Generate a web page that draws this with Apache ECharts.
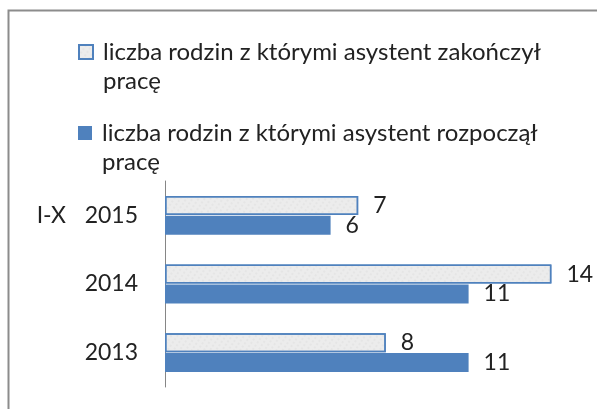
<!DOCTYPE html>
<html>
<head>
<meta charset="utf-8">
<script src="https://cdn.jsdelivr.net/npm/echarts@6/dist/echarts.min.js"></script>
<style>
  html, body { margin: 0; padding: 0; background: #fff; }
  #chart { width: 597px; height: 409px; }
</style>
</head>
<body>
<div id="chart"></div>
<script>
// dane
var categories = ['2013', '2014', 'I-X 2015']
var zakonczyl = [8, 14, 7]
var rozpoczal = [11, 11, 6]
var nameZak = 'liczba rodzin z którymi asystent zakończył pracę'
var nameRoz = 'liczba rodzin z którymi asystent rozpoczął pracę'

var FONT = 'Lato'
var BLUE = '#4f81bd'
var LINE = 29

var chart = echarts.init(document.getElementById('chart'))

// pusty pierwszy wiersz -> ikonka wypada na wysokosci pierwszej linii tekstu
function legendItem (name, iconY) {
  return {
    data: [name],
    orient: 'vertical',
    left: 78,
    top: iconY - LINE * 1.5,
    padding: 0,
    icon: 'rect',
    itemWidth: 14,
    itemHeight: 14,
    selectedMode: false,
    formatter: function (n) {
      return ' \n' + n.replace(' pracę', '\npracę')
    },
    textStyle: {
      fontFamily: FONT,
      fontSize: 24,
      color: '#222',
      lineHeight: LINE,
      padding: [0, 0, 0, 5]
    }
  }
}

var labelStyle = {
  show: true,
  position: 'right',
  distance: 15,
  fontFamily: FONT,
  fontSize: 23,
  color: '#222'
}

chart.setOption({
  animation: false,
  graphic: [{
    type: 'rect',
    shape: { x: 8.5, y: 10.5, width: 700, height: 500 },
    style: { fill: 'none', stroke: '#8c8c8c', lineWidth: 2 },
    silent: true
  }],
  legend: [legendItem(nameZak, 52), legendItem(nameRoz, 133)],
  grid: {
    left: 165,
    top: 181,
    width: 414,
    bottom: 22
  },
  xAxis: {
    type: 'value',
    min: 0,
    max: 15,
    show: false
  },
  yAxis: {
    type: 'category',
    data: categories,
    axisLine: { lineStyle: { color: '#868686', width: 1 } },
    axisTick: { show: false },
    axisLabel: {
      margin: 27,
      fontFamily: FONT,
      fontSize: 23,
      color: '#222',
      formatter: function (v) {
        var p = v.split(' ')
        if (p.length > 1) return '{p|' + p[0] + '}{y|' + p[1] + '}'
        return '{y|' + v + '}'
      },
      rich: {
        p: { fontFamily: FONT, fontSize: 23, color: '#222', width: 48, align: 'left' },
        y: { fontFamily: FONT, fontSize: 23, color: '#222' }
      }
    }
  },
  series: [
    {
      name: nameZak,
      type: 'bar',
      data: zakonczyl,
      barWidth: 19,
      barGap: '4%',
      itemStyle: {
        color: '#ececec',
        borderColor: BLUE,
        borderWidth: 1.5,
        decal: {
          symbol: 'circle',
          symbolSize: 0.7,
          color: 'rgba(190,190,190,0.45)',
          dashArrayX: [2, 3],
          dashArrayY: [2, 2],
          rotation: 0.6
        }
      },
      label: labelStyle
    },
    {
      name: nameRoz,
      type: 'bar',
      data: rozpoczal,
      barWidth: 19,
      barGap: '4%',
      itemStyle: { color: BLUE },
      label: labelStyle
    }
  ]
})
</script>
</body>
</html>
